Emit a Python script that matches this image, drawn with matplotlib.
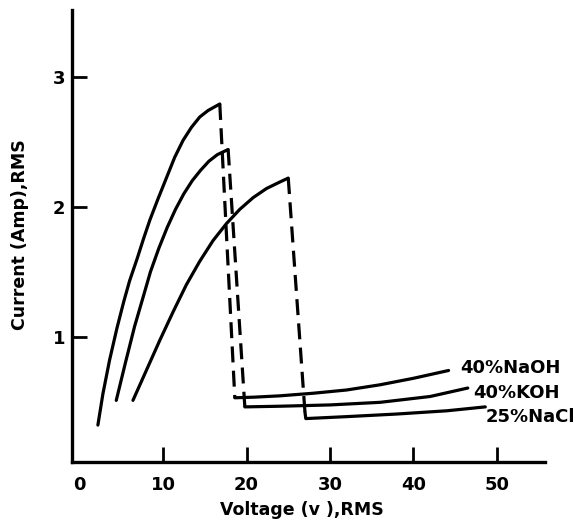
import matplotlib
matplotlib.use("Agg")
import matplotlib.pyplot as plt

# ---- data ----
naoh_rise_x = [2.2, 2.8, 3.6, 4.5, 5.3, 6.0, 6.9, 7.7, 8.44, 9.4, 10.4, 11.4, 12.4, 13.4, 14.4, 15.4, 16.8]
naoh_rise_y = [0.32, 0.56, 0.82, 1.07, 1.27, 1.43, 1.60, 1.76, 1.90, 2.06, 2.22, 2.38, 2.51, 2.61, 2.69, 2.74, 2.79]
naoh_drop_x = [16.8, 18.6]
naoh_drop_y = [2.79, 0.53]
naoh_low_x = [18.6, 21.0, 24.0, 28.0, 32.0, 36.0, 40.0, 44.2]
naoh_low_y = [0.53, 0.535, 0.545, 0.565, 0.59, 0.63, 0.68, 0.74]

koh_rise_x = [4.4, 5.5, 6.6, 7.6, 8.5, 9.5, 10.5, 11.5, 12.5, 13.5, 14.5, 15.5, 16.5, 17.8]
koh_rise_y = [0.51, 0.80, 1.08, 1.30, 1.50, 1.68, 1.84, 1.98, 2.10, 2.20, 2.28, 2.35, 2.40, 2.44]
koh_drop_x = [17.8, 19.8]
koh_drop_y = [2.44, 0.46]
koh_low_x = [19.8, 24.0, 30.0, 36.0, 42.0, 46.5]
koh_low_y = [0.46, 0.465, 0.475, 0.495, 0.54, 0.605]

nacl_rise_x = [6.4, 8.0, 9.6, 11.2, 12.8, 14.4, 16.0, 17.6, 19.2, 20.8, 22.4, 24.0, 25.0]
nacl_rise_y = [0.51, 0.74, 0.97, 1.19, 1.40, 1.58, 1.74, 1.87, 1.98, 2.07, 2.14, 2.19, 2.22]
nacl_drop_x = [25.0, 27.0]
nacl_drop_y = [2.22, 0.42]
nacl_low_x = [27.0, 27.1, 32.0, 38.0, 44.0, 48.6]
nacl_low_y = [0.42, 0.37, 0.385, 0.405, 0.43, 0.46]

series_labels = ["40%NaOH", "40%KOH", "25%NaCl"]
label_x = [45.6, 47.1, 48.6]
label_y = [0.76, 0.567, 0.38]

x_ticks = [0, 10, 20, 30, 40, 50]
y_ticks = [1, 2, 3]

# ---- figure ----
fig = plt.figure(figsize=(5.86, 5.29), dpi=100)
ax = fig.add_axes([72/586, 1-462/529, (545-72)/586, (462-10)/529])

lw = 2.3
kw = dict(color="black", lw=lw, solid_capstyle="round", solid_joinstyle="round")
dkw = dict(color="black", lw=lw, dashes=(5, 2.6))

ax.plot(naoh_rise_x, naoh_rise_y, **kw)
ax.plot(naoh_drop_x, naoh_drop_y, **dkw)
ax.plot(naoh_low_x, naoh_low_y, **kw)
ax.plot(koh_rise_x, koh_rise_y, **kw)
ax.plot(koh_drop_x, koh_drop_y, **dkw)
ax.plot(koh_low_x, koh_low_y, **kw)
ax.plot(nacl_rise_x, nacl_rise_y, **kw)
ax.plot(nacl_drop_x, nacl_drop_y, **dkw)
ax.plot(nacl_low_x, nacl_low_y, **kw)

for t, x, y in zip(series_labels, label_x, label_y):
    ax.text(x, y, t, fontsize=13, fontweight="bold", ha="left", va="center")

ax.set_xlim(-0.9, 55.75)
ax.set_ylim(0.036, 3.513)
for s in ["top", "right"]:
    ax.spines[s].set_visible(False)
for s in ["left", "bottom"]:
    ax.spines[s].set_linewidth(2.4)

ax.set_xticks(x_ticks)
ax.set_xticklabels([str(v) for v in x_ticks], fontsize=13, fontweight="bold")
ax.set_yticks(y_ticks)
ax.set_yticklabels([str(v) for v in y_ticks], fontsize=13, fontweight="bold")
ax.tick_params(axis="x", direction="in", length=11, width=2, pad=10)
ax.tick_params(axis="y", direction="in", length=11, width=2, pad=5)
ax.get_xticklines()[0].set_visible(False)

fig.text(302/586, 1-510/529, "Voltage (v ),RMS", fontsize=12.5, fontweight="bold",
         ha="center", va="center")
fig.text(20/586, 1-235/529, "Current (Amp),RMS", fontsize=12.5, fontweight="bold",
         ha="center", va="center", rotation=90)

fig.savefig("out.png", dpi=100)
